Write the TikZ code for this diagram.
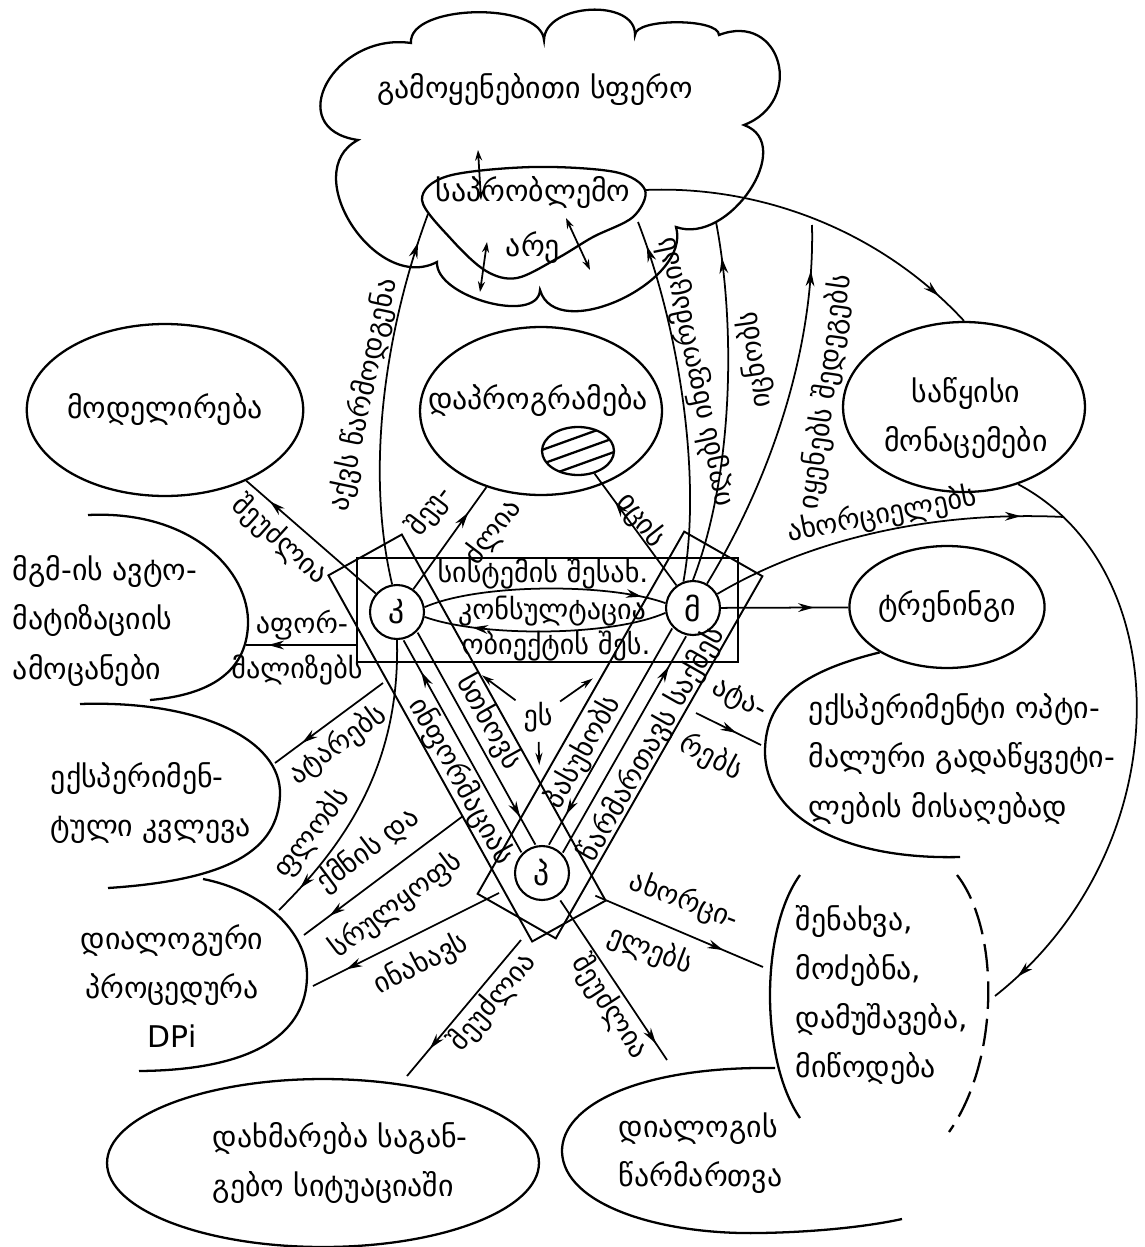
\documentclass[tikz,border=0pt]{standalone}
\usepackage{fontspec}
\newfontfamily\geo{DejaVu Sans}
\usetikzlibrary{shapes.geometric,arrows.meta,decorations.markings}

\begin{document}
\begin{tikzpicture}[x=0.02cm,y=-0.02cm,line width=1pt,
    txt/.style={font=\geo\fontsize{17}{28}\selectfont,inner sep=0pt},
    lbl/.style={font=\geo\fontsize{16}{24}\selectfont,inner sep=0pt,align=center},
    ell/.style={ellipse,draw,line width=1.3pt,inner sep=0pt},
    who/.style={circle,draw,fill=white,line width=1.2pt,minimum size=1.08cm,inner sep=0pt,font=\geo\fontsize{18}{20}\selectfont},
    band/.style={line width=1.1pt},
    shp/.style={line width=1.3pt},
    headat/.style={postaction={decorate},decoration={markings,mark=at position #1 with {\arrow{Stealth[length=9pt,width=5pt]}}}},
    dblarrow/.style={{Stealth[length=6pt,width=4pt]}-{Stealth[length=6pt,width=4pt]}},
    esarrow/.style={-{Stealth[length=7pt,width=4pt]}}]
\useasboundingbox (0,0) rectangle (1144,1247);

% cloud and problem area
\draw[shp] (358,140) .. controls (281,129) and (334,32) .. (411,43)
  .. controls (408,4) and (541,1) .. (544,40)
  .. controls (545,3) and (636,-2) .. (635,35)
  .. controls (635,18) and (719,18) .. (719,35)
  .. controls (781,11) and (806,101) .. (744,125)
  .. controls (797,144) and (729,246) .. (676,227)
  .. controls (692,282) and (556,345) .. (540,290)
  .. controls (538,325) and (435,297) .. (437,262)
  .. controls (376,294) and (297,172) .. cycle;
\draw[shp] plot[smooth cycle,tension=0.55] coordinates {(422,200) (448,176) (533,167) (615,172) (645,190) (633,217) (593,237) (558,258) (517,278) (486,271) (452,240)};
\node[txt] (sphere) at (535,90) {გამოყენებითი სფერო};
\node[txt,align=center] (area) at (533,220) {საპრობლემო\\[3pt]არე};
\draw[dblarrow] (478,150) -- (481,200);
\draw[dblarrow] (487,242) -- (480,292);
\draw[dblarrow] (566,218) -- (590,270);

% ellipses
\node[ell,minimum width=4.88cm,minimum height=3.44cm,txt] (mod) at (165,410) {მოდელირება};
\node[ell,minimum width=4.84cm,minimum height=3.36cm] (prog) at (541,411) {};
\node[txt] (progt) at (538,401) {დაპროგრამება};
\node[ell,minimum width=1.44cm,minimum height=0.96cm,
  path picture={\foreach \k in {-2,...,2}
    \draw[line width=1.3pt] ([xshift=-1cm,yshift=\k*0.28cm-0.36cm]path picture bounding box.center) -- ++(2cm,0.72cm);}] (hatch) at (578,451) {};
\node[ell,minimum width=4.84cm,minimum height=3.4cm] (ini) at (964,407) {};
\node[txt,align=center] (init) at (966,418) {საწყისი\\მონაცემები};
\node[ell,minimum width=3.52cm,minimum height=2.44cm,txt] (train) at (947,607) {ტრენინგი};
\node[ell,minimum width=8.64cm,minimum height=3.36cm] (help) at (323,1163) {};
\node[txt,align=left,anchor=west] (helpt) at (212,1163) {დახმარება საგან-\\გებო სიტუაციაში};

% open shapes
\draw[shp] (88,515) .. controls (190,510) and (250,570) .. (248,625) .. controls (246,672) and (210,695) .. (150,700);
\draw[shp] (80,704) .. controls (200,700) and (282,740) .. (280,795) .. controls (278,850) and (230,880) .. (108,888);
\draw[shp] (203,879) .. controls (260,890) and (308,930) .. (307,977) .. controls (306,1030) and (260,1070) .. (139,1071);
\draw[shp] (train.214) .. controls (800,672) and (766,700) .. (765,750) .. controls (764,815) and (840,860) .. (960,857);
\draw[shp] (800,875) .. controls (760,930) and (760,1060) .. (800,1118);
\draw[shp,dash pattern=on 0.55cm off 0.2cm] (957,875) .. controls (1000,930) and (1000,1060) .. (949,1132);
\draw[shp] (775,1068) .. controls (640,1066) and (561,1105) .. (562,1152) .. controls (564,1205) and (660,1235) .. (760,1233) .. controls (820,1232) and (870,1226) .. (902,1219);
\node[txt,align=left,anchor=west] (tasks) at (12,621) {მგმ-ის ავტო-\\მატიზაციის\\ამოცანები};
\node[txt,align=left,anchor=west] (expr) at (50,803) {ექსპერიმენ-\\ტული კვლევა};
\node[txt,align=center] (dproc) at (172,986) {დიალოგური\\პროცედურა\\DPi};
\node[txt,align=left,anchor=west] (exper) at (808,759) {ექსპერიმენტი ოპტი-\\მალური გადაწყვეტი-\\ლების მისაღებად};
\node[txt,align=left,anchor=west] (store) at (795,995) {შენახვა,\\მოძებნა,\\დამუშავება,\\მიწოდება};
\node[txt,align=left,anchor=west] (dlg) at (618,1153) {დიალოგის\\წარმართვა};

% boxes and bands
\draw[band] (357,558) rectangle (738,662);
\draw[band,rotate around={-60.9:(467,738)}] (257.5,696) rectangle (676.5,780);
\draw[band,rotate around={60.3:(620,735)}] (411.5,690) rectangle (828.5,780);
\coordinate (kmw) at (357,645);
\node[who] (K) at (397,612) {კ};
\node[who] (M) at (693,608) {მ};
\node[who] (P) at (542,873) {პ};

% consultation
\draw[headat=0.9] (K.10) .. controls (480,583) and (610,583) .. (M.170);
\draw[headat=0.8] (M.190) .. controls (610,637) and (480,637) .. (K.350);
\node[lbl] (abt1) at (543,574) {სისტემის შესახ.};
\node[lbl] (cons) at (552,611) {კონსულტაცია};
\node[lbl] (abt2) at (556,646) {ობიექტის შეს.};

% expert system
\node[lbl] (es) at (538,717) {ეს};
\draw[esarrow,shorten <=0.56cm,shorten >=2.12cm] (es.center) -- (K.center);
\draw[esarrow,shorten <=0.54cm,shorten >=2.45cm] (es.center) -- (M.center);
\draw[esarrow,shorten <=0.5cm,shorten >=2.16cm] (es.center) -- (P.center);

% bands
\draw[headat=0.85,transform canvas={shift={(-0.14cm,-0.078cm)}}] (P) -- (K);
\draw[headat=0.87,transform canvas={shift={(0.14cm,0.078cm)}}] (K) -- (P);
\draw[headat=0.86,transform canvas={shift={(-0.139cm,0.079cm)}}] (M) -- (P);
\draw[headat=0.86,transform canvas={shift={(0.139cm,-0.079cm)}}] (P) -- (M);
\node[lbl,rotate=-60.9] (infol) at (461,781) {ინფორმაციას};
\node[lbl,rotate=-60.9] (askl) at (489,722) {სთხოვს};
\node[lbl,rotate=60.3] (ansl) at (583,752) {პასუხობს};
\node[lbl,rotate=60.3] (leadl) at (652,744) {წარმართავს საქმეს};

% knowledge engineer
\coordinate (ta) at (246,645);
\draw[headat=0.8] (kmw) -- (ta);
\node[lbl] (forml1) at (302,625) {აფორ-};
\node[lbl] (forml2) at (297,670) {მალიზებს};
\draw[headat=0.82] (K) -- (mod);
\node[lbl,rotate=-42] (canl1) at (280,540) {შეუძლია};
\draw[headat=0.75] (K) -- (prog);
\node[lbl,rotate=53] (canl2a) at (430,511) {შეუ-};
\node[lbl,rotate=53] (canl2b) at (493,532) {ძლია};
\coordinate (kx1) at (383,683);
\coordinate (eb) at (275,763);
\draw[headat=0.75] (kx1) -- (eb);
\node[lbl,rotate=36] (condl) at (338,745) {ატარებს};
\coordinate (dc1) at (279,910);
\draw[headat=0.9] (K.south) .. controls (400,760) and (350,840) .. (dc1);
\node[lbl,rotate=52] (ownl) at (312,833) {ფლობს};
\coordinate (ar3) at (428,214);
\draw[headat=0.92] (K.100) .. controls (365,470) and (385,330) .. (ar3);
\node[lbl,rotate=78] (ideal) at (364,395) {აქვს წარმოდგენა};

% programmer
\coordinate (px1) at (463,816);
\coordinate (dc2) at (304,935);
\draw[headat=0.84] (px1) -- (dc2);
\node[lbl,rotate=37] (makel1) at (368,850) {ქმნის და};
\node[lbl,rotate=37] (makel2) at (396,905) {სრულყოფს};
\coordinate (px2) at (499,893);
\coordinate (dc3) at (313,986);
\draw[headat=0.82] (px2) -- (dc3);
\node[lbl,rotate=27] (keepl) at (421,964) {ინახავს};
\coordinate (px3) at (521,940);
\coordinate (hp1) at (407,1076);
\draw[headat=0.8] (px3) -- (hp1);
\node[lbl,rotate=50] (canl3) at (493,1002) {შეუძლია};
\coordinate (dg1) at (667,1060);
\draw[headat=0.9,shorten <=0.1cm] (P) -- (dg1);
\node[lbl,rotate=-57] (canl4) at (610,1007) {შეუძლია};
\coordinate (st1) at (763,967);
\draw[headat=0.82,shorten <=1.16cm] (P.center) -- (st1);
\node[lbl,rotate=-21] (perfl1) at (684,901) {ახორცი-};
\node[lbl,rotate=-21] (perfl2) at (650,950) {ელებს};

% user
\draw[headat=0.75] (M) -- (hatch);
\node[lbl,rotate=-52] (knowl) at (641,520) {იცის};
\coordinate (mx1) at (696,713);
\coordinate (ex1) at (761,745);
\draw[headat=0.62] (mx1) -- (ex1);
\node[lbl,rotate=-28] (condl2a) at (739,700) {ატა-};
\node[lbl,rotate=-28] (condl2b) at (711,757) {რებს};
\draw[headat=0.73] (M) -- (train);
\coordinate (bc1) at (1064,517);
\draw[headat=0.88] (M.30) .. controls (800,545) and (920,510) .. (bc1);
\node[lbl,rotate=11] (perfl3) at (882,515) {ახორციელებს};
\coordinate (ar1) at (645,190);
\draw[headat=0.9] (ar1) .. controls (760,185) and (880,230) .. (ini.north);
\coordinate (sc1) at (995,996);
\draw[headat=0.95] (ini.-55) .. controls (1180,570) and (1180,850) .. (sc1);
\coordinate (ar2) at (638,222);
\draw[headat=0.93] (M.110) .. controls (702,480) and (680,330) .. (ar2);
\node[lbl,rotate=102] (a1l) at (695,372) {იღებს ინფორმაციას};
\coordinate (cl1) at (716,222);
\draw[headat=0.9] (M.90) .. controls (735,470) and (735,320) .. (cl1);
\node[lbl,rotate=98] (a2l) at (755,360) {იცნობს};
\coordinate (lc1) at (812,225);
\draw[headat=0.88] (M.60) .. controls (770,480) and (815,350) .. (lc1);
\node[lbl,rotate=82] (a3l) at (826,392) {იყენებს შედეგებს};
\end{tikzpicture}
\end{document}
